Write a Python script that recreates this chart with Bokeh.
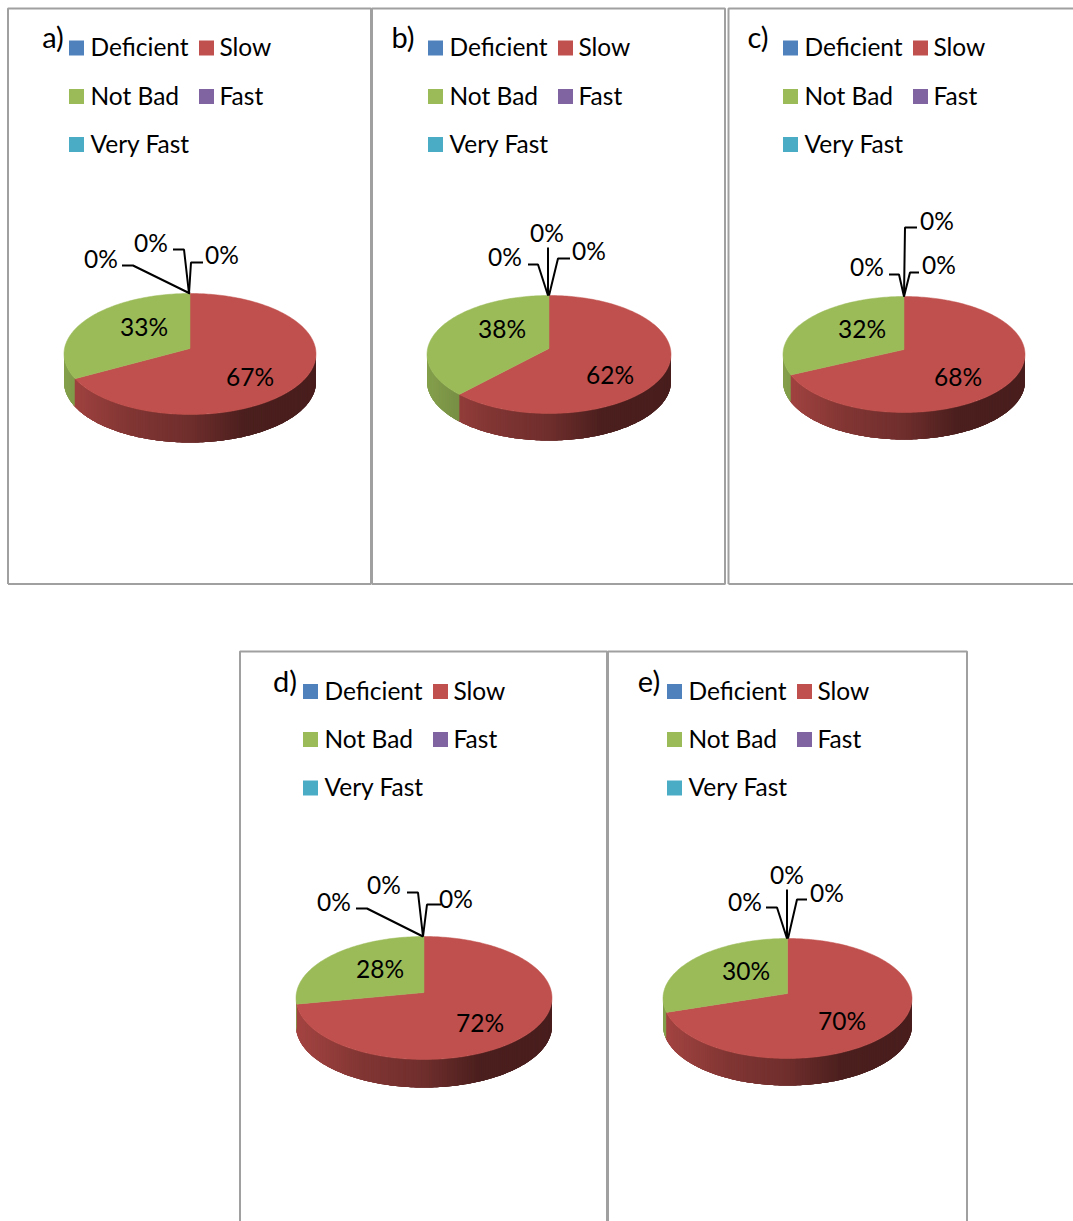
import math

from bokeh.core.properties import value
from bokeh.embed import file_html
from bokeh.models import ColumnDataSource, Range1d
from bokeh.plotting import figure
from bokeh.resources import INLINE

# Survey categories and the share of each one, panel by panel
categories = ["Deficient", "Slow", "Not Bad", "Fast", "Very Fast"]
panel_names = ["a)", "b)", "c)", "d)", "e)"]
shares_a = [0, 67, 33, 0, 0]
shares_b = [0, 62, 38, 0, 0]
shares_c = [0, 68, 32, 0, 0]
shares_d = [0, 72, 28, 0, 0]
shares_e = [0, 70, 30, 0, 0]
all_shares = [shares_a, shares_b, shares_c, shares_d, shares_e]

colors = ["#4F81BD", "#C0504D", "#9BBB59", "#8064A2", "#4BACC6"]

FONT = "Lato"
FRAME = "#A0A0A0"
TEXT_LIFT = 1.5  # Lato's middle baseline sits a little low

# Per-panel page layout: frame box, name label, legend origin, pie ellipse
layouts = [
    dict(frame=(8, 371, 8, 583.5), name=(53, 37), swatch_x=(69, 199), text_x=(90.5, 219.5), rows=(47.5, 96, 144),
         left=64, right=316, top=293, bottom=414, apex=348, depth=28,
         value_pos={"Slow": (250, 377), "Not Bad": (144, 327)},
         zero_pos=[(101, 259), (151, 243), (222, 255)],
         leaders=[[(122, 265), (133, 265), (190, 293)], [(173, 249), (184, 249), (189, 293)], [(203, 262), (191, 262), (189, 293)]]),
    dict(frame=(372, 725, 8, 583.5), name=(403, 37), swatch_x=(428, 558), text_x=(449.5, 578.5), rows=(47.5, 96, 144),
         left=427, right=671, top=295, bottom=413, apex=348, depth=27,
         value_pos={"Slow": (610, 375), "Not Bad": (502, 329)},
         zero_pos=[(505, 257), (547, 233), (589, 251)],
         leaders=[[(528, 264), (538, 264), (548, 295)], [(548, 247), (548, 295)], [(570, 258), (558, 258), (549, 295)]]),
    dict(frame=(728.5, 1080, 8, 583.5), name=(758, 37), swatch_x=(783, 913), text_x=(804.5, 933.5), rows=(47.5, 96, 144),
         left=783, right=1025, top=296, bottom=412, apex=349, depth=27,
         value_pos={"Slow": (958, 377), "Not Bad": (862, 329)},
         zero_pos=[(867, 267), (937, 221), (939, 265)],
         leaders=[[(889, 274), (899, 274), (904, 296)], [(917, 227), (905, 227), (904, 296)], [(919, 272), (910, 272), (904, 296)]]),
    dict(frame=(240, 607, 651, 1230), name=(285, 681), swatch_x=(303, 433), text_x=(324.5, 453.5), rows=(691, 739, 787.5),
         left=296, right=552, top=936, bottom=1059, apex=992, depth=28,
         value_pos={"Slow": (480, 1023), "Not Bad": (380, 969)},
         zero_pos=[(334, 902), (384, 885), (456, 899)],
         leaders=[[(356, 908), (367, 908), (423, 936)], [(407, 892), (418, 892), (423, 936)], [(441, 904), (427, 904), (423, 936)]]),
    dict(frame=(608, 967, 651, 1230), name=(649, 681), swatch_x=(667, 797), text_x=(688.5, 817.5), rows=(691, 739, 787.5),
         left=663, right=912, top=938, bottom=1058, apex=993, depth=27,
         value_pos={"Slow": (842, 1021), "Not Bad": (746, 971)},
         zero_pos=[(745, 902), (787, 875), (827, 893)],
         leaders=[[(766, 907), (777, 907), (787, 938)], [(787, 889), (787, 938)], [(807, 899), (797, 899), (788, 938)]]),
]

# Side-wall shading: multiplier applied to the slice colour across the pie width
SHADE_STOPS = [(0.0, 0.86), (0.25, 0.68), (0.5, 0.58), (0.72, 0.39), (1.0, 0.38)]


def shade(hex_color, t):
    s = SHADE_STOPS[-1][1]
    for (t0, s0), (t1, s1) in zip(SHADE_STOPS, SHADE_STOPS[1:]):
        if t <= t1:
            s = s0 + (s1 - s0) * (t - t0) / (t1 - t0)
            break
    r, g, b = (int(hex_color[i:i + 2], 16) for i in (1, 3, 5))
    return f"#{int(r * s):02x}{int(g * s):02x}{int(b * s):02x}"


class PiePerspective:
    """Projects a pie angle (clockwise from the far point) onto the page."""

    def __init__(self, lay):
        a = lay["apex"] - lay["top"]
        b = lay["bottom"] - lay["apex"]
        self.k = (b - a) / (b + a)
        self.g = a * (1 + self.k)
        self.cx = (lay["left"] + lay["right"]) / 2
        self.rx = (lay["right"] - lay["left"]) / 2
        self.f = self.rx * math.sqrt(1 - self.k ** 2)
        self.apex = lay["apex"]

    def point(self, theta):
        w = 1 + self.k * math.cos(theta)
        return self.cx + self.f * math.sin(theta) / w, self.apex - self.g * math.cos(theta) / w

    def widest(self):
        return math.acos(-self.k)


p = figure(width=1073, height=1221, output_backend="svg", toolbar_location=None,
           x_range=Range1d(0.5, 1073.5), y_range=Range1d(1221, 0),
           min_border=0, outline_line_color=None)
p.axis.visible = False
p.grid.visible = False
p.background_fill_color = "white"
p.border_fill_color = "white"


def draw_text(xs, ys, labels, align="center", size="24.5px"):
    p.text(x=xs, y=[y - TEXT_LIFT for y in ys], text=labels, text_font=value(FONT), text_font_size=size,
           text_align=align, text_baseline="middle", text_color="#000000")


for name, shares, lay in zip(panel_names, all_shares, layouts):
    x0, x1, y0, y1 = lay["frame"]
    p.line([x0, x0, x1, x1, x0], [y1, y0, y0, y1, y1], line_color=FRAME, line_width=2)
    draw_text([lay["name"][0]], [lay["name"][1]], [name], size="29px")

    # Legend, two columns over three rows
    legend_cells = [(0, 0), (1, 0), (0, 1), (1, 1), (0, 2)]
    for cat, col, (c, r) in zip(categories, colors, legend_cells):
        sx = lay["swatch_x"][c]
        sy = lay["rows"][r]
        p.quad(left=[sx], right=[sx + 15], top=[sy - 7.5], bottom=[sy + 7.5],
               fill_color=col, line_color=None)
        draw_text([lay["text_x"][c]], [sy], [cat], align="left")

    persp = PiePerspective(lay)
    total = sum(shares)

    # Slice angular spans, clockwise from the far point
    spans = []
    acc = 0.0
    for share, col in zip(shares, colors):
        start = acc / total * 2 * math.pi
        acc += share
        spans.append((start, acc / total * 2 * math.pi, col))

    # Front wall as shaded strips, each overlapping the next so no seams show
    wall_x, wall_y, wall_c = [], [], []
    th_start = persp.widest()
    th_end = 2 * math.pi - th_start
    steps = 160
    overlap = 4
    for i in range(steps):
        mid = th_start + (th_end - th_start) * (i + 0.5) / steps
        a_list = [th_start + (th_end - th_start) * j / steps for j in range(i, min(i + overlap, steps) + 1)]
        col = next((c for s, e, c in spans if s <= mid < e), colors[1])
        pts = [persp.point(a) for a in a_list]
        t = (persp.point(mid)[0] - lay["left"]) / (lay["right"] - lay["left"])
        wall_x.append([q[0] for q in pts] + [q[0] for q in reversed(pts)])
        wall_y.append([q[1] for q in pts] + [q[1] + lay["depth"] for q in reversed(pts)])
        wall_c.append(shade(col, t))
    src = ColumnDataSource(dict(x=wall_x, y=wall_y, c=wall_c))
    p.patches("x", "y", source=src, fill_color="c", line_color=None)

    # Top surface
    for start, end, col in spans:
        if end - start <= 0:
            continue
        n = max(2, int((end - start) / 0.02))
        pts = [persp.point(start + (end - start) * i / n) for i in range(n + 1)]
        xs = [persp.cx] + [q[0] for q in pts]
        ys = [persp.apex] + [q[1] for q in pts]
        p.patch(xs, ys, fill_color=col, line_color=col, line_width=0.5)

    # Leader lines and value labels
    for path in lay["leaders"]:
        p.line([q[0] for q in path], [q[1] for q in path], line_color="#000000", line_width=2)
    for cat, share in zip(categories, shares):
        if share > 0:
            px, py = lay["value_pos"][cat]
            draw_text([px], [py], [f"{share}%"])
    zero_labels = [f"{s}%" for s in shares if s == 0]
    for (px, py), text in zip(lay["zero_pos"], zero_labels):
        draw_text([px], [py], [text])

open("out.html", "w").write(file_html(p, INLINE))
